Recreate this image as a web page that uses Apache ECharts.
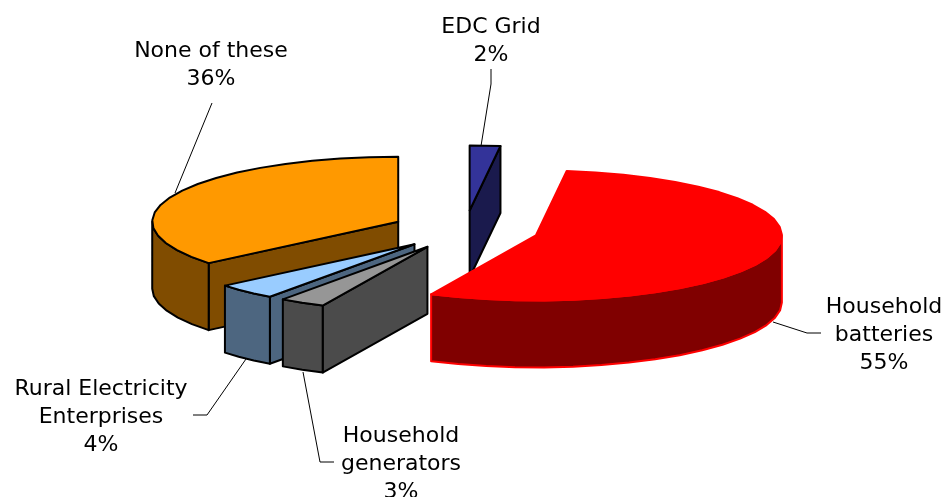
<!DOCTYPE html>
<html>
<head>
<meta charset="utf-8">
<title>Electricity source shares</title>
<style>html,body{margin:0;padding:0;background:#fff}#chart{width:942px;height:497px}</style>
<script src="https://cdn.jsdelivr.net/npm/echarts@6/dist/echarts.min.js"></script>
</head>
<body>
<div id="chart"></div>
<script>
// Slices clockwise from twelve o'clock
const categories = ['EDC Grid', 'Household\nbatteries', 'Household\ngenerators', 'Rural Electricity\nEnterprises', 'None of these'];
const shares = [2, 55, 3, 4, 36];

// Back-to-front painting sequence (indices into categories)
const paintOrder = [0, 4, 3, 2, 1];

const topColors  = ['#333399', '#ff0000', '#969696', '#99ccff', '#ff9900'];
const sideColors = ['#1a1a4d', '#800000', '#4b4b4b', '#4d6680', '#804c00'];
const edgeColors = ['#000000', '#ff0000', '#000000', '#000000', '#000000'];
const edgeWidths = [2, 2, 2, 2, 2];

// Projected pie: ellipse radii, wall height, explosion factor
const pie = { cx: 465, cy: 230, rx: 246, ry: 65, depth: 67, explode: 0.3, stepDeg: 7 };

// Label anchor (centre of text block) and leader path for each slice
const labelAnchors = [[491, 41], [884, 335], [401, 464], [101, 417], [211, 65]];
const leaderPaths = [
  [[491, 69], [491, 84], [481, 146]],
  [[773, 322], [807, 333], [821, 333]],
  [[303, 372], [320, 462], [334, 462]],
  [[193, 415], [207, 415], [246, 359]],
  [[212, 103], [175, 193]]
];

const total = shares.reduce((a, b) => a + b, 0);
const spans = [];
let running = 0;
shares.forEach(v => {
  const from = running / total * 360;
  running += v;
  spans.push([from, running / total * 360]);
});

const rad = d => d * Math.PI / 180;

function rimPoint(c, deg, drop) {
  return [c[0] + pie.rx * Math.sin(rad(deg)), c[1] - pie.ry * Math.cos(rad(deg)) + (drop || 0)];
}

function arcPoints(c, a, b, drop) {
  const pts = [];
  const n = Math.max(1, Math.ceil((b - a) / pie.stepDeg));
  for (let i = 0; i <= n; i++) pts.push(rimPoint(c, a + (b - a) * i / n, drop));
  return pts;
}

function renderSlice(params) {
  const i = paintOrder[params.dataIndex];
  const [a, b] = spans[i];
  const mid = (a + b) / 2;
  const c = [
    pie.cx + pie.explode * pie.rx * Math.sin(rad(mid)),
    pie.cy - pie.explode * pie.ry * Math.cos(rad(mid))
  ];
  const style = (fill) => ({
    fill: fill,
    stroke: edgeColors[i],
    lineWidth: edgeWidths[i],
    lineJoin: 'round'
  });
  const children = [];
  const base = [c[0], c[1] + pie.depth];

  // Cut faces, shown only when their outward normal points at the viewer
  if (-Math.sin(rad(a)) > 0) {
    const p = rimPoint(c, a), q = rimPoint(c, a, pie.depth);
    children.push({ type: 'polygon', shape: { points: [c, p, q, base] }, style: style(sideColors[i]) });
  }
  if (Math.sin(rad(b)) > 0) {
    const p = rimPoint(c, b), q = rimPoint(c, b, pie.depth);
    children.push({ type: 'polygon', shape: { points: [c, p, q, base] }, style: style(sideColors[i]) });
  }

  // Curved outer wall on the near half of the ellipse
  const wa = Math.max(a, 90), wb = Math.min(b, 270);
  if (wb > wa) {
    const upper = arcPoints(c, wa, wb, 0);
    const lower = arcPoints(c, wa, wb, pie.depth).reverse();
    children.push({ type: 'polygon', shape: { points: upper.concat(lower) }, style: style(sideColors[i]) });
  }

  // Top surface
  children.push({
    type: 'polygon',
    shape: { points: [c].concat(arcPoints(c, a, b, 0)) },
    style: style(topColors[i])
  });

  // Leader line and label
  children.push({
    type: 'polyline',
    silent: true,
    shape: { points: leaderPaths[i] },
    style: { fill: 'none', stroke: '#000000', lineWidth: 1 }
  });
  children.push({
    type: 'text',
    silent: true,
    x: labelAnchors[i][0],
    y: labelAnchors[i][1],
    style: {
      text: categories[i] + '\n' + shares[i] + '%',
      fontFamily: '"DejaVu Sans", Verdana, sans-serif',
      fontSize: 22,
      lineHeight: 28,
      fill: '#000000',
      align: 'center',
      verticalAlign: 'middle'
    }
  });
  return { type: 'group', children };
}

const chart = echarts.init(document.getElementById('chart'), null, { renderer: 'canvas' });
chart.setOption({
  animation: false,
  backgroundColor: '#ffffff',
  series: [{
    type: 'custom',
    coordinateSystem: 'none',
    renderItem: renderSlice,
    data: paintOrder.map(i => ({ name: categories[i].replace('\n', ' '), value: shares[i] }))
  }]
});
</script>
</body>
</html>
